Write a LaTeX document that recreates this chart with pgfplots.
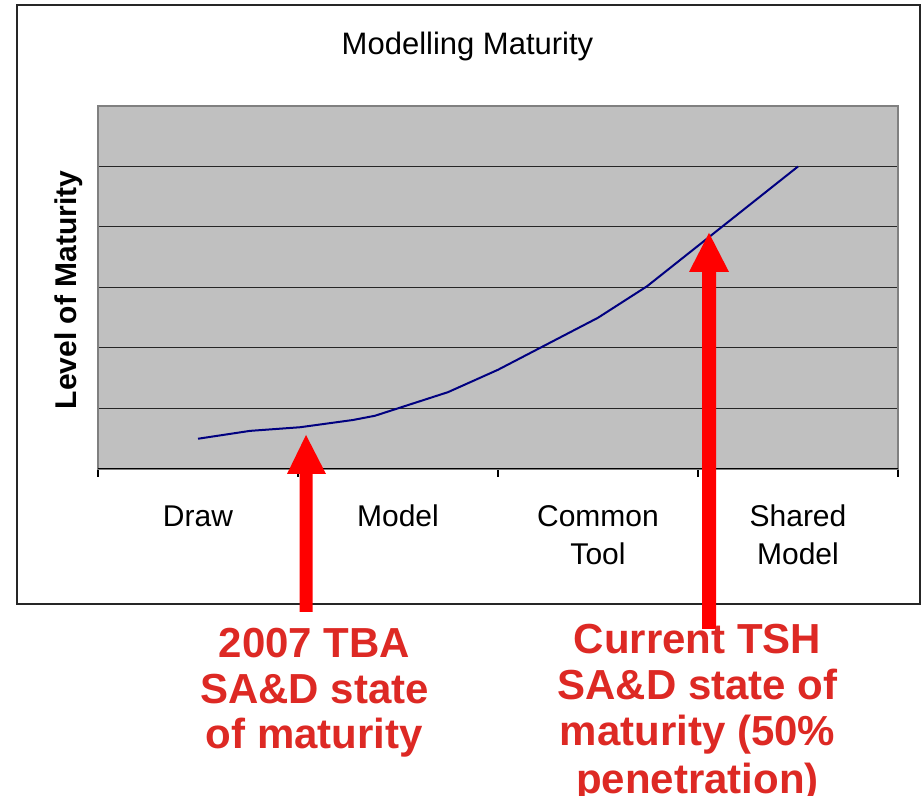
\documentclass[border=0pt]{standalone}
\usepackage{fontspec}
\setmainfont{Liberation Sans}
\usepackage{pgfplots}
\pgfplotsset{compat=1.18}
\definecolor{plotgray}{RGB}{192,192,192}
\definecolor{bordergray}{RGB}{128,128,128}
\definecolor{navyline}{RGB}{0,0,128}
\definecolor{notered}{RGB}{221,41,36}
\begin{document}
\begin{tikzpicture}
\begin{axis}[
  at={(49pt,163.5pt)}, anchor=south west,
  scale only axis, width=400pt, height=181.5pt,
  xmin=0, xmax=4, ymin=0, ymax=6,
  axis background/.style={fill=plotgray},
  axis line style={draw=bordergray, line width=0.75pt},
  xtick={0.5,1.5,2.5,3.5},
  xticklabels={Draw, Model, {Common\\Tool}, {Shared\\Model}},
  typeset ticklabels with strut,
  minor xtick={0,1,2,3,4},
  xtick pos=left,
  tick align=outside,
  major x tick style={draw=none},
  minor tick length=4pt,
  every minor tick/.style={black, line width=0.6pt},
  ytick={1,2,3,4,5},
  yticklabels={},
  ytick style={draw=none},
  ymajorgrids,
  major grid style={black!85, line width=0.5pt},
  xticklabel style={align=center, font=\fontsize{15}{19}\selectfont, yshift=-7.5pt},
]
\addplot[navyline, line width=1pt] coordinates {
  (0.5,0.50) (0.76,0.63) (1.01,0.69) (1.275,0.81) (1.385,0.88)
  (1.75,1.27) (2.0,1.64) (2.5,2.50) (2.745,3.02) (3.5,5.0)
};
\draw[black, line width=0.6pt] (rel axis cs:0,0) -- (rel axis cs:1,0);
\end{axis}
\begin{scope}[x=0.5pt, y=-0.5pt, yshift=398pt]
  % outer chart box
  \draw[black!85, line width=0.7pt] (17,5) rectangle (920,604);
  % title
  \node[anchor=base, font=\fontsize{15.5}{19}\selectfont, inner sep=0pt] at (467.5,55) {Modelling Maturity};
  % y label
  \node[rotate=90, font=\fontsize{15}{19}\selectfont\bfseries, inner sep=0pt] at (69,290) {Level of Maturity};
  % arrows
  \fill[red] (299.5,612) -- (312.5,612) -- (312.5,474) -- (326,474) -- (306,435) -- (287,474) -- (299.5,474) -- cycle;
  \fill[red] (702,629) -- (716,629) -- (716,272) -- (729,272) -- (709,233) -- (689,272) -- (702,272) -- cycle;
  % notes
  \begin{scope}[every node/.style={anchor=base, text=notered, inner sep=0pt, font=\fontsize{21}{23}\selectfont\bfseries}]
    \node at (314.5,658) {2007 TBA};
    \node at (314.5,704) {SA\&D state};
    \node at (314.5,749) {of maturity};
    \node at (697.5,654) {Current TSH};
    \node at (697.5,700) {SA\&D state of};
    \node at (697.5,746) {maturity (50\%};
    \node at (697.5,794) {penetration)};
  \end{scope}
\end{scope}
\pgfresetboundingbox
\useasboundingbox (0,0) rectangle (461pt,398pt);
\end{tikzpicture}
\end{document}
